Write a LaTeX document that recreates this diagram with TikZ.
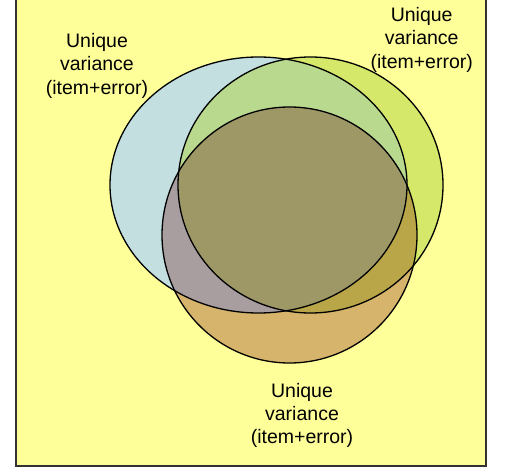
\documentclass[tikz,border=0pt]{standalone}
\usepackage{fontspec}
\setmainfont{Liberation Sans}
\definecolor{bgyel}{HTML}{FFFF99}
\definecolor{cB}{HTML}{C4DFE0}
\definecolor{cG}{HTML}{D5E86A}
\definecolor{cO}{HTML}{D6B46C}
\definecolor{cBG}{HTML}{B9D98E}
\definecolor{cBO}{HTML}{A89EA0}
\definecolor{cGO}{HTML}{B9A648}
\definecolor{cBGO}{HTML}{9E9866}
\tikzset{
  outline/.style={draw=black, line width=1.3bp},
  lbl/.style={align=center, inner sep=0pt, font=\fontsize{19.5bp}{23.2bp}\selectfont}
}
\begin{document}
\begin{tikzpicture}[x=1bp,y=-1bp]
\useasboundingbox (0,0) rectangle (505,476);
\fill[white] (0,0) rectangle (505,476);
\draw[fill=bgyel, draw=black!80, line width=1.3bp] (16,-5) rectangle (486,466);
% base fills
\fill[cB] (258.5,185) ellipse [x radius=148.5, y radius=128];
\fill[cG] (310.5,185) ellipse [x radius=132.5, y radius=128];
\fill[cO] (289.5,235) ellipse [x radius=127.5, y radius=128];
% pairwise
\begin{scope}
  \clip (258.5,185) ellipse [x radius=148.5, y radius=128];
  \fill[cBG] (310.5,185) ellipse [x radius=132.5, y radius=128];
  \fill[cBO] (289.5,235) ellipse [x radius=127.5, y radius=128];
\end{scope}
\begin{scope}
  \clip (310.5,185) ellipse [x radius=132.5, y radius=128];
  \fill[cGO] (289.5,235) ellipse [x radius=127.5, y radius=128];
\end{scope}
\begin{scope}
  \clip (258.5,185) ellipse [x radius=148.5, y radius=128];
  \clip (310.5,185) ellipse [x radius=132.5, y radius=128];
  \fill[cBGO] (289.5,235) ellipse [x radius=127.5, y radius=128];
\end{scope}
% outlines
\draw[outline] (258.5,185) ellipse [x radius=148.5, y radius=128];
\draw[outline] (310.5,185) ellipse [x radius=132.5, y radius=128];
\draw[outline] (289.5,235) ellipse [x radius=127.5, y radius=128];
% labels
\node[lbl] (l1) at (97,65.9) {Unique\\variance\\(item+error)};
\node[lbl] (l2) at (421.7,39.9) {Unique\\variance\\(item+error)};
\node[lbl] (l3) at (302,415.3) {Unique\\variance\\(item+error)};
\end{tikzpicture}
\end{document}
